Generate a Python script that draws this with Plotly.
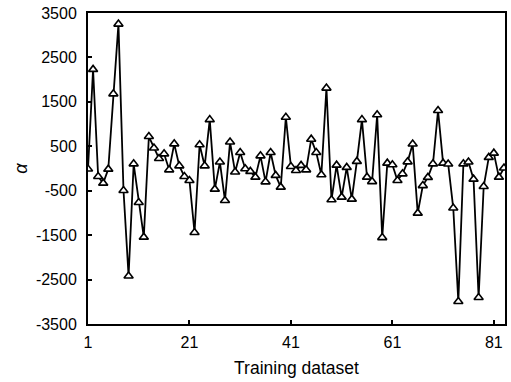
import plotly.graph_objects as go

x_index = list(range(1, 84))
alpha = [
    -10, 2230, -180, -330, -15, 1680, 3250, -495, -2420, 105,
    -765, -1545, 720, 460, 225, 330, -30, 555, 60, -180,
    -270, -1440, 535, 60, 1100, -465, 145, -720, 595, -80,
    360, -5, -65, -195, 285, -300, 360, -155, -420, 1155,
    45, -45, 70, -30, 660, 360, -140, 1810, -705, 75,
    -645, 25, -690, 160, 1100, -195, -295, 1210, -1555, 120,
    85, -270, -120, 150, 550, -1005, -385, -200, 105, 1305,
    120, 100, -890, -2995, 105, 145, -240, -2905, -405, 250,
    345, -195, 10,
]
x_ticks = [1, 21, 41, 61, 81]
y_ticks = [-3500, -2500, -1500, -500, 500, 1500, 2500, 3500]

fig = go.Figure()
fig.add_trace(go.Scatter(
    x=x_index, y=alpha, mode="lines+markers",
    line=dict(color="black", width=1.8),
    marker=dict(symbol="triangle-up", size=8, color="white",
                line=dict(color="black", width=1.6)),
    showlegend=False,
))
fig.update_layout(
    width=511, height=382,
    margin=dict(l=88, r=6, t=13, b=58),
    paper_bgcolor="white", plot_bgcolor="white",
    font=dict(family="Liberation Sans, Arial, sans-serif", size=16, color="black"),
)
fig.update_xaxes(
    range=[1, 83.2], tickvals=x_ticks, ticktext=[str(v) for v in x_ticks],
    ticks="inside", ticklen=4, tickwidth=1.5, tickcolor="black",
    showline=True, linecolor="black", linewidth=2, mirror=True,
    showgrid=False, zeroline=False, automargin=False,
    tickfont=dict(size=16), ticklabelstandoff=3,
    title=dict(text="Training dataset", font=dict(size=17.5), standoff=12),
)
fig.update_yaxes(
    range=[-3500, 3500], tickvals=y_ticks, ticktext=[str(v) for v in y_ticks],
    ticks="inside", ticklen=4, tickwidth=1.5, tickcolor="black",
    showline=True, linecolor="black", linewidth=2, mirror=True,
    showgrid=False, zeroline=False, automargin=False,
    tickfont=dict(size=16), ticklabelstandoff=6,
    title=dict(text="<i>α</i>", font=dict(size=18), standoff=4),
)
fig.write_html("out.html", config={"displayModeBar": False},
               post_script="document.body.style.margin='0';document.body.style.overflow='hidden';")
